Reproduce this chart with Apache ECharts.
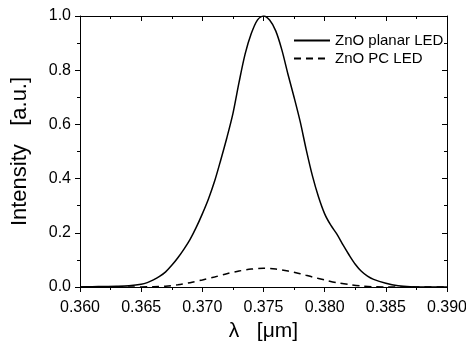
<!DOCTYPE html>
<html>
<head>
<meta charset="utf-8">
<script src="https://cdn.jsdelivr.net/npm/echarts@6/dist/echarts.min.js"></script>
<style>
  html, body { margin: 0; padding: 0; background: #fff; }
  #chart { width: 466px; height: 341px; }
</style>
</head>
<body>
<div id="chart"></div>
<script>
// wavelength in um
const planarLambda = [0.360, 0.361, 0.362, 0.363, 0.364, 0.365, 0.3655, 0.366, 0.3665, 0.367, 0.3675,
  0.368, 0.3685, 0.369, 0.3695, 0.370, 0.3705, 0.371, 0.3715, 0.372, 0.3725, 0.373, 0.3735, 0.374,
  0.3745, 0.375, 0.3755, 0.376, 0.3765, 0.377, 0.3775, 0.378, 0.3785, 0.379, 0.3795, 0.380, 0.3805,
  0.381, 0.3815, 0.382, 0.3825, 0.383, 0.3835, 0.384, 0.385, 0.386, 0.387, 0.388, 0.390];
const planarIntensity = [0, 0.001, 0.002, 0.003, 0.005, 0.010, 0.016, 0.026, 0.039, 0.056, 0.080,
  0.108, 0.140, 0.176, 0.220, 0.270, 0.325, 0.390, 0.468, 0.550, 0.640, 0.755, 0.860, 0.935,
  0.985, 1.0, 0.985, 0.945, 0.875, 0.785, 0.700, 0.610, 0.505, 0.410, 0.332, 0.270, 0.228,
  0.195, 0.155, 0.118, 0.084, 0.058, 0.040, 0.028, 0.014, 0.005, 0.001, 0, 0];

const pcLambda = [0.360, 0.364, 0.366, 0.367, 0.368, 0.369, 0.370, 0.371, 0.372, 0.373, 0.374, 0.375,
  0.376, 0.377, 0.378, 0.379, 0.380, 0.381, 0.382, 0.383, 0.384, 0.385, 0.390];
const pcIntensity = [0, 0, 0.001, 0.003, 0.008, 0.016, 0.026, 0.037, 0.049, 0.059, 0.066, 0.069,
  0.066, 0.059, 0.049, 0.037, 0.026, 0.016, 0.009, 0.004, 0.001, 0, 0];

const seriesNames = ["ZnO planar LED", "ZnO PC LED"];

const font = '"Liberation Sans", Arial, sans-serif';
const pair = (xs, ys) => xs.map((x, i) => [x, ys[i]]);

const chart = echarts.init(document.getElementById("chart"), null, { renderer: "canvas" });

const xBase = {
  type: "value",
  min: 0.36,
  max: 0.39,
  interval: 0.005,
  axisLine: { show: true, onZero: false, lineStyle: { color: "#000", width: 1 } },
  splitLine: { show: false },
  minorTick: { show: true, splitNumber: 2, length: 3, lineStyle: { color: "#000" } },
};
const yBase = {
  type: "value",
  min: 0,
  max: 1,
  interval: 0.2,
  axisLine: { show: true, lineStyle: { color: "#000", width: 1 } },
  splitLine: { show: false },
  minorTick: { show: true, splitNumber: 2, length: 3, lineStyle: { color: "#000" } },
};

chart.setOption({
  animation: false,
  backgroundColor: "#fff",
  textStyle: { fontFamily: font },
  grid: { left: 80, top: 16, right: 19, bottom: 54, containLabel: false, outerBoundsMode: "none" },
  legend: {
    data: seriesNames,
    orient: "vertical",
    left: 288,
    top: 28,
    itemWidth: 36,
    itemHeight: 12,
    itemGap: 3,
    itemStyle: { opacity: 0 },
    textStyle: { fontSize: 15, color: "#000", fontFamily: font },
  },
  xAxis: [
    Object.assign({}, xBase, {
      position: "bottom",
      name: "λ   [μm]",
      nameLocation: "middle",
      nameGap: 29,
      nameTextStyle: { fontSize: 21, color: "#000", fontFamily: font },
      axisTick: { show: true, inside: false, length: 5, lineStyle: { color: "#000" } },
      axisLabel: {
        fontSize: 16, color: "#000", margin: 13,
        formatter: v => v.toFixed(3),
      },
    }),
    Object.assign({}, xBase, {
      position: "top",
      axisTick: { show: true, inside: true, length: 5, lineStyle: { color: "#000" } },
      axisLabel: { show: false },
    }),
  ],
  yAxis: [
    Object.assign({}, yBase, {
      position: "left",
      name: "Intensity   [a.u.]",
      nameLocation: "middle",
      nameGap: 49,
      nameTextStyle: { fontSize: 22, color: "#000", fontFamily: font },
      axisTick: { show: true, inside: false, length: 5, lineStyle: { color: "#000" } },
      axisLabel: {
        fontSize: 16, color: "#000", margin: 9,
        formatter: v => v.toFixed(1),
      },
    }),
    Object.assign({}, yBase, {
      position: "right",
      axisTick: { show: true, inside: true, length: 5, lineStyle: { color: "#000" } },
      axisLabel: { show: false },
    }),
  ],
  series: [
    {
      name: seriesNames[0],
      type: "line",
      data: pair(planarLambda, planarIntensity),
      smooth: 0.3,
      symbol: "none",
      lineStyle: { color: "#000", width: 1.5, type: "solid" },
      itemStyle: { color: "#000" },
    },
    {
      name: seriesNames[1],
      type: "line",
      data: pair(pcLambda, pcIntensity),
      smooth: 0.3,
      symbol: "none",
      lineStyle: { color: "#000", width: 1.5, type: [7, 5] },
      itemStyle: { color: "#000" },
    },
  ],
});
</script>
</body>
</html>
